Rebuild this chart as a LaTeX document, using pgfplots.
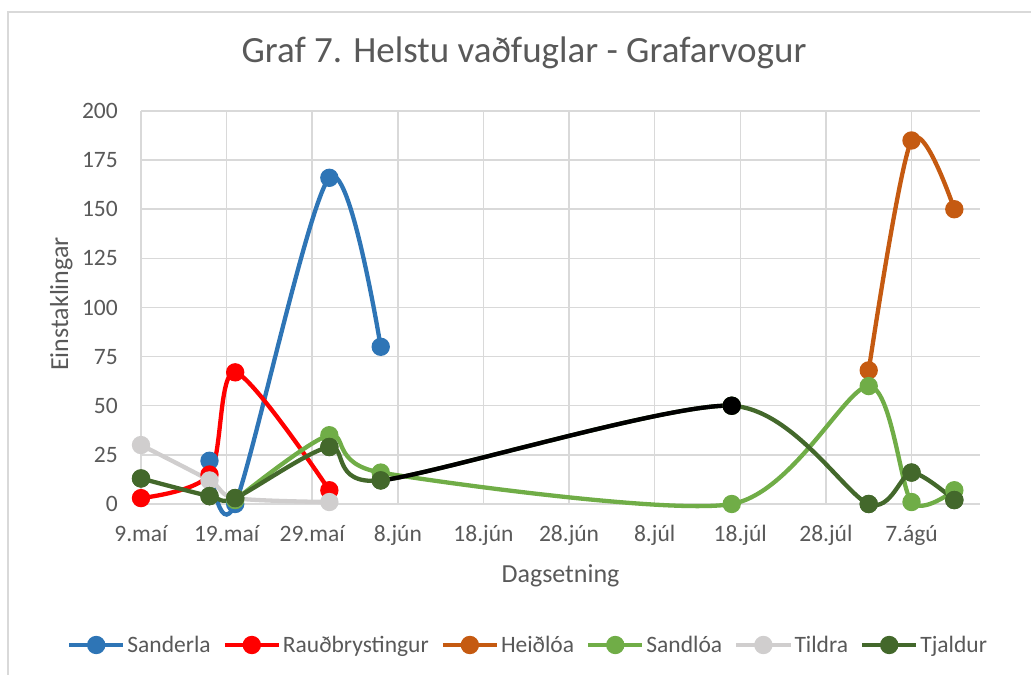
\documentclass[border=0pt]{standalone}
\usepackage{pgfplots}
\pgfplotsset{compat=1.18}
\usepackage{fontspec}
\setmainfont{Carlito}

\definecolor{txtgray}{HTML}{595959}
\definecolor{gridgray}{HTML}{D9D9D9}
\definecolor{cSanderla}{HTML}{2E75B6}
\definecolor{cRaud}{HTML}{FF0000}
\definecolor{cHeid}{HTML}{C55A11}
\definecolor{cSandloa}{HTML}{70AD47}
\definecolor{cTildra}{HTML}{D0CECE}
\definecolor{cTjaldur}{HTML}{43682B}

% x = days after 9. maí
\pgfplotstableread{
x y
8 22
11 0
22 166
28 80
}\sanderla
\pgfplotstableread{
x y
0 3
8 15
11 67
22 7
}\raudbryst
\pgfplotstableread{
x y
85 68
90 185
95 150
}\heidloa
\pgfplotstableread{
x y
11 2
22 35
28 16
69 0
85 60
90 1
95 7
}\sandloa
\pgfplotstableread{
x y
0 30
8 12
11 3
22 1
}\tildra
\pgfplotstableread{
x y
0 13
8 4
11 3
22 29
28 12
69 50
85 0
90 16
95 2
}\tjaldur

\begin{document}
\begin{tikzpicture}[x=1bp,y=1bp]
\useasboundingbox (0,0) rectangle (1031,675);
\draw[gridgray, line width=1.2bp] (8,0) -- (8,663) -- (1031,663);
\begin{axis}[
  at={(141bp,171bp)}, anchor=south west,
  scale only axis, width=839bp, height=393bp,
  xmin=0, xmax=98, ymin=0, ymax=200,
  enlargelimits=false, clip=false,
  axis line style={draw=none},
  major tick length=0pt,
  xtick={0,10,...,90},
  xticklabels={9.maí,19.maí,29.maí,8.jún,18.jún,28.jún,8.júl,18.júl,28.júl,7.ágú},
  ytick={0,25,...,200},
  grid=major,
  major grid style={gridgray, line width=1.5bp},
  /pgf/number format/assume math mode=true,
  tick label style={font=\fontsize{23.5bp}{28bp}\selectfont, text=txtgray, inner sep=0pt},
  xticklabel style={anchor=base, yshift=-38bp},
  yticklabel style={anchor=east, xshift=-23bp},
  title={Graf 7. Helstu vaðfuglar - Grafarvogur},
  title style={at={(axis description cs:0.4565,1.1094)}, anchor=base,
    font=\fontsize{37bp}{44bp}\selectfont, text=txtgray, inner sep=0pt},
  xlabel={Dagsetning},
  xlabel style={at={(axis description cs:0.5,-0.201)}, anchor=base,
    font=\fontsize{26bp}{31bp}\selectfont, text=txtgray, inner sep=0pt},
  ylabel={Einstaklingar},
  ylabel style={at={(axis description cs:-0.087,0.509)}, anchor=base,
    font=\fontsize{26bp}{31bp}\selectfont, text=txtgray, inner sep=0pt},
  every axis plot/.append style={line width=4.3bp, mark=*, mark size=7bp, smooth},
  legend columns=6,
  legend style={at={(axis description cs:0.4613,-0.3588)}, anchor=center,
    draw=none, fill=none, font=\fontsize{23.5bp}{28bp}\selectfont, text=txtgray,
    /tikz/every even column/.append style={column sep=10bp},
    nodes={inner sep=2bp}},
  legend image code/.code={\draw[mark repeat=2, mark phase=2, mark size=7bp]
    plot coordinates {(0bp,0bp) (27bp,0bp) (54bp,0bp)};},
]
\addplot[cSanderla, mark options={fill=cSanderla}] table {\sanderla};
\addlegendentry{Sanderla}
\addplot[cRaud, mark options={fill=cRaud}] table {\raudbryst};
\addlegendentry{Rauðbrystingur}
\addplot[cHeid, mark options={fill=cHeid}] table {\heidloa};
\addlegendentry{Heiðlóa}
\addplot[cSandloa, tension=0.45, mark options={fill=cSandloa}] table {\sandloa};
\addlegendentry{Sandlóa}
\addplot[cTildra, mark options={fill=cTildra}] table {\tildra};
\addlegendentry{Tildra}
\addplot[cTjaldur, tension=0.45, mark options={fill=cTjaldur}] table {\tjaldur};
\addlegendentry{Tjaldur}
% segment 6.jún - 17.júl of Tjaldur is drawn in black
\begin{scope}
\clip (axis cs:28,-20) rectangle (axis cs:69,210);
\addplot[black, tension=0.45, mark=none, forget plot] table {\tjaldur};
\end{scope}
\addplot[cTjaldur, only marks, mark options={fill=cTjaldur}, forget plot] table {\tjaldur};
\addplot[black, only marks, mark options={fill=black}, forget plot] coordinates {(69,50)};
\end{axis}
\end{tikzpicture}
\end{document}
